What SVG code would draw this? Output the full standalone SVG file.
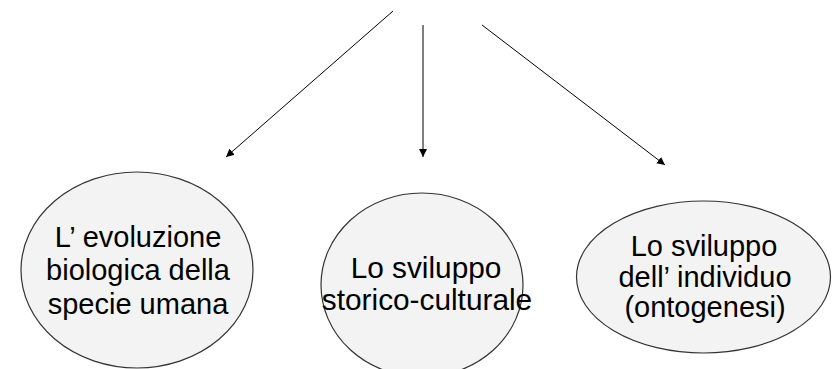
<svg xmlns="http://www.w3.org/2000/svg" width="832" height="369" viewBox="0 0 832 369">
<style>
.node ellipse{fill:#f3f3f3;stroke:#333;stroke-width:1.2}
.node text{font-family:"Liberation Sans",Arial,sans-serif;font-size:29px;fill:#000;text-anchor:middle}
#node2 text{font-size:29.8px}
.conn line{stroke:#000;stroke-width:1}
</style>
<defs>
<marker id="ah" viewBox="0 0 10 10" refX="10" refY="5" markerWidth="8" markerHeight="8" markerUnits="userSpaceOnUse" orient="auto">
<path d="M0,0 L10,5 L0,10 z" fill="#000"/>
</marker>
</defs>
<rect width="832" height="369" fill="#fff"/>
<g id="connectors" class="conn">
<line x1="393" y1="11" x2="226" y2="157" marker-end="url(#ah)"/>
<line x1="423" y1="25" x2="423" y2="157" marker-end="url(#ah)"/>
<line x1="482" y1="25" x2="665" y2="165" marker-end="url(#ah)"/>
</g>
<g id="node1" class="node">
<ellipse cx="137" cy="270" rx="116" ry="98"/>
<text x="138" y="247">L’ evoluzione</text>
<text x="138" y="280">biologica della</text>
<text x="138" y="314">specie umana</text>
</g>
<g id="node2" class="node">
<ellipse cx="422" cy="285" rx="101" ry="92"/>
<text x="426" y="278">Lo sviluppo</text>
<text x="427" y="310">storico-culturale</text>
</g>
<g id="node3" class="node">
<ellipse cx="703.5" cy="277" rx="127" ry="76"/>
<text x="704" y="256">Lo sviluppo</text>
<text x="705" y="287">dell’ individuo</text>
<text x="705" y="317">(ontogenesi)</text>
</g>
</svg>
